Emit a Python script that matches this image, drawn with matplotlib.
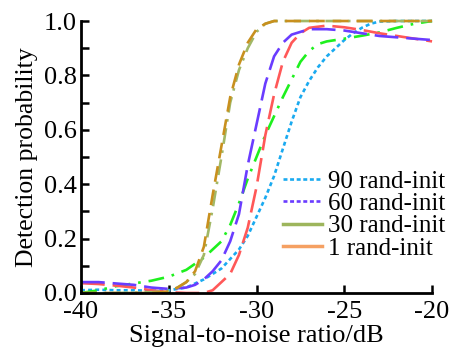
import matplotlib
matplotlib.use("Agg")
import matplotlib.pyplot as plt
from matplotlib.lines import Line2D
from matplotlib.ticker import MultipleLocator

plt.rcParams['font.family'] = ['Liberation Serif', 'DejaVu Serif']

# ---- data ----
gold_x = [-40, -38, -36, -35, -34.5, -34, -33.5, -33, -32.5, -32, -31.5, -31, -30.5, -30, -29.5, -29, -28, -26, -24, -22, -20]
gold_y = [0.0, 0.0, 0.0, 0.005, 0.02, 0.04, 0.08, 0.17, 0.36, 0.54, 0.72, 0.84, 0.92, 0.97, 0.99, 1.0, 1.0, 1.0, 1.0, 1.0, 1.0]

olive_x = [-40, -38, -36, -35, -34.5, -34, -33.5, -33, -32.5, -32, -31.5, -31, -30.5, -30, -29.5, -29, -28, -26, -24, -22, -20]
olive_y = [0.0, 0.0, 0.003, 0.008, 0.02, 0.04, 0.07, 0.14, 0.31, 0.5, 0.7, 0.82, 0.9, 0.96, 0.99, 1.0, 1.0, 1.0, 1.0, 1.0, 1.0]

purple_x = [-40, -39, -38, -37, -36, -35, -34, -33.5, -33, -32.5, -32, -31.5, -31, -30.5, -30, -29.5, -29, -28.5, -28, -27.5, -27, -26, -25, -24, -23, -22, -21, -20]
purple_y = [0.04, 0.04, 0.035, 0.03, 0.02, 0.015, 0.02, 0.03, 0.05, 0.08, 0.12, 0.19, 0.29, 0.47, 0.62, 0.77, 0.87, 0.92, 0.95, 0.96, 0.97, 0.97, 0.965, 0.955, 0.945, 0.94, 0.935, 0.93]

red_x = [-40, -39, -38, -37, -36, -35, -34, -33.5, -33, -32.5, -32, -31.5, -31, -30.5, -30, -29.5, -29, -28.5, -28, -27.5, -27, -26, -25, -24, -23, -22, -21, -20]
red_y = [0.036, 0.033, 0.027, 0.02, 0.01, 0.003, 0.0, 0.0, 0.0, 0.01, 0.04, 0.07, 0.14, 0.24, 0.39, 0.58, 0.73, 0.85, 0.92, 0.955, 0.975, 0.983, 0.977, 0.967, 0.955, 0.945, 0.935, 0.925]

green_x = [-40, -39, -38, -37, -36, -35, -34, -33, -32, -31.5, -31, -30.5, -30, -29.5, -29, -28.5, -28, -27.5, -27, -26.5, -26, -25, -24, -23, -22, -21, -20]
green_y = [0.0, 0.01, 0.025, 0.035, 0.045, 0.06, 0.085, 0.13, 0.19, 0.25, 0.33, 0.42, 0.50, 0.58, 0.65, 0.72, 0.785, 0.85, 0.89, 0.915, 0.925, 0.935, 0.946, 0.958, 0.975, 0.99, 1.0]

cyan_x = [-40, -39, -38, -37, -36, -35, -34, -33, -32, -31, -30.5, -30, -29.5, -29, -28.5, -28, -27.5, -27, -26.5, -26, -25.5, -25, -24.5, -24, -23.5, -23, -22, -21, -20]
cyan_y = [0.01, 0.012, 0.01, 0.01, 0.008, 0.01, 0.02, 0.05, 0.09, 0.16, 0.21, 0.28, 0.35, 0.43, 0.53, 0.63, 0.72, 0.78, 0.83, 0.87, 0.9, 0.93, 0.955, 0.975, 0.99, 0.998, 1.0, 1.0, 1.0]

legend_labels = ['90 rand-init', '60 rand-init', '30 rand-init', '1 rand-init']

# ---- figure ----
fig = plt.figure(figsize=(4.51, 3.58), dpi=100)
ax = fig.add_axes([0.1796, 0.1816, 0.958 - 0.1796, 0.9413 - 0.1816])

lw = 1.9
ax.plot(cyan_x, cyan_y, color='#1aaaf0', lw=lw, dashes=(1.5, 1.2), clip_on=False)
ax.plot(green_x, green_y, color='#1ef01e', lw=lw, dashes=(6, 3, 1, 3), clip_on=False)
ax.plot(red_x, red_y, color='#ff5858', lw=lw, dashes=(9, 3), clip_on=False)
ax.plot(purple_x, purple_y, color='#6a3cff', lw=lw, dashes=(9, 3), clip_on=False)
ax.plot(olive_x, olive_y, color='#a2b866', lw=lw, dashes=(6, 2.5, 1, 2.5), clip_on=False)
ax.plot(gold_x, gold_y, color='#c8901e', lw=lw, dashes=(6, 3), clip_on=False)

handles = [
    Line2D([], [], color='#1aaaf0', lw=lw, dashes=(1.5, 1.0)),
    Line2D([], [], color='#6a3cff', lw=lw, dashes=(1.5, 1.0)),
    Line2D([], [], color='#9db55c', lw=2.5),
    Line2D([], [], color='#f5a062', lw=2.5),
]
leg = fig.legend(handles, legend_labels, loc='upper left',
                 bbox_to_anchor=(283 / 451, 1 - 170 / 358),
                 frameon=False, fontsize=18, handlelength=1.55, handletextpad=0.25,
                 labelspacing=0.0, borderpad=0.0, borderaxespad=0.0)

ax.set_xlim(-40, -20)
ax.set_ylim(0, 1.0)
ax.set_xticks([-40, -35, -30, -25, -20])
ax.set_xticklabels(['-40', '-35', '-30', '-25', '-20'])
ax.yaxis.set_minor_locator(MultipleLocator(0.1))
ax.set_yticks([0.0, 0.2, 0.4, 0.6, 0.8, 1.0])
ax.set_yticklabels(['0.0', '0.2', '0.4', '0.6', '0.8', '1.0'])
ax.tick_params(axis='both', which='both', direction='in', length=6, width=1.8, labelsize=19)
ax.tick_params(axis='x', pad=6)
ax.tick_params(axis='y', pad=3)

for s in ['top', 'right']:
    ax.spines[s].set_visible(False)
for s in ['left', 'bottom']:
    ax.spines[s].set_linewidth(2.0)

ax.set_xlabel('Signal-to-noise ratio/dB', fontsize=19, labelpad=1)
ax.set_ylabel('Detection probability', fontsize=18.5, labelpad=4)

fig.savefig('out.png', dpi=100)
